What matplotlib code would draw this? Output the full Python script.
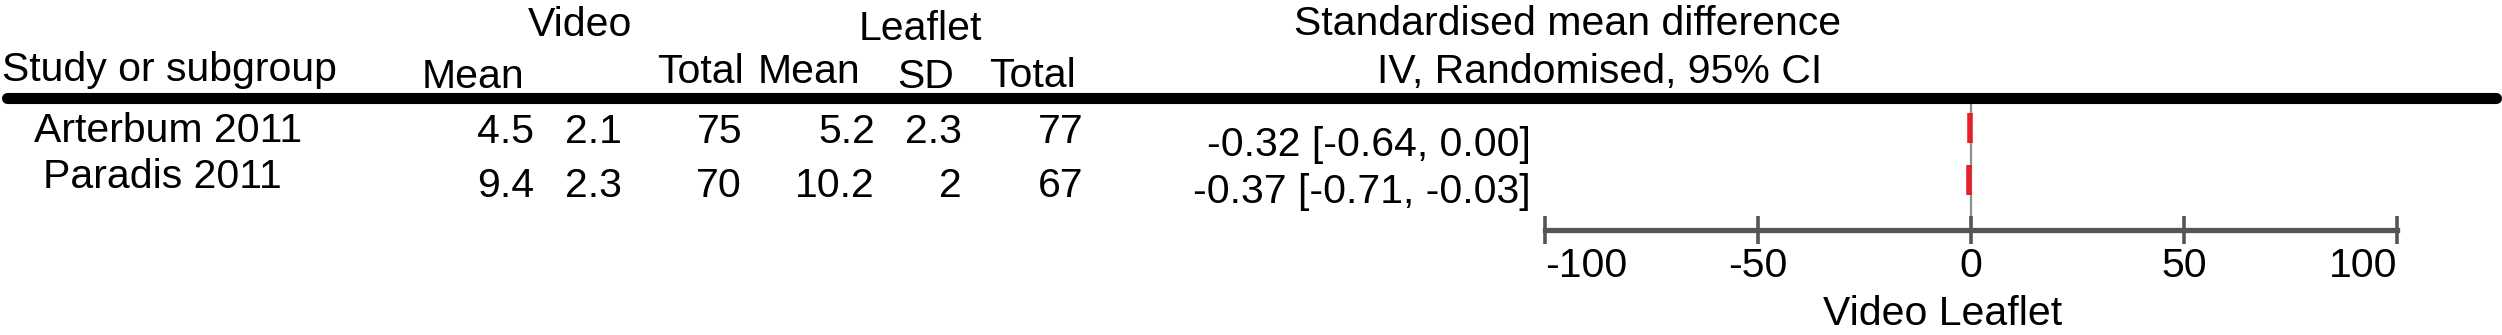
import matplotlib
matplotlib.use("Agg")
import matplotlib.pyplot as plt
from matplotlib.lines import Line2D

# data
studies = ["Arterbum 2011", "Paradis 2011"]
video_mean = [4.5, 9.4]
video_sd = [2.1, 2.3]
video_total = [75, 70]
leaflet_mean = [5.2, 10.2]
leaflet_sd = [2.3, 2.0]
leaflet_total = [77, 67]
smd = [-0.32, -0.37]
ci_low = [-0.64, -0.71]
ci_high = [0.00, -0.03]
axis_ticks = [-100, -50, 0, 50, 100]
axis_label = "Video Leaflet"

W, H = 2502, 335
FS = 29.5
plt.rcParams.update({"font.family": ["Liberation Sans", "DejaVu Sans"], "font.size": FS})


def fx(x):
    return x / W


def fy(y):
    return 1 - y / H


def put(fig, x, y, s, ha="left"):
    fig.text(fx(x), fy(y), s, ha=ha, va="baseline", fontsize=FS, color="black")


fig = plt.figure(figsize=(W / 100, H / 100), dpi=100)

# header
put(fig, 580, 36, "Video", ha="center")
put(fig, 920, 40, "Leaflet", ha="center")
put(fig, 2, 81, "Study or subgroup")
put(fig, 422, 88, "Mean")
put(fig, 700, 83, "Total", ha="center")
put(fig, 809, 83, "Mean", ha="center")
put(fig, 926, 88, "SD", ha="center")
put(fig, 1033, 87, "Total", ha="center")
put(fig, 1294, 35, "Standardised mean difference")
put(fig, 1377, 83, "IV, Randomised, 95% CI")

fig.add_artist(Line2D([fx(7), fx(2496)], [fy(98), fy(98)], color="black",
                      linewidth=8, solid_capstyle="round"))

# table rows
name_x = [168, 162]
name_y = [142, 188]
num_y = [143, 197]
ci_y = [156, 203]
col_right = [534, 622, 742, 875, 962, 1084]
for i, name in enumerate(studies):
    put(fig, name_x[i], name_y[i], name, ha="center")
    vals = [video_mean[i], video_sd[i], video_total[i],
            leaflet_mean[i], leaflet_sd[i], leaflet_total[i]]
    for xr, v in zip(col_right, vals):
        put(fig, xr, num_y[i], f"{v:g}", ha="right")
    put(fig, 1531, ci_y[i], f"{smd[i]:.2f} [{ci_low[i]:.2f}, {ci_high[i]:.2f}]", ha="right")

# forest panel
ax = fig.add_axes([fx(1545), fy(230), fx(2397) - fx(1545), fy(103) - fy(230)])
ax.set_xlim(-100, 100)
ax.set_ylim(0.05, 2.47)
rows = [2, 1]
ax.axvline(0, color="#8f8f8f", linewidth=1.6, zorder=1)
ax.plot(smd, rows, linestyle="none", marker="|", markersize=21,
        markeredgewidth=4, color="#e3202b", zorder=3)
for sp in ["top", "right", "left"]:
    ax.spines[sp].set_visible(False)
ax.spines["bottom"].set_color("#555555")
ax.spines["bottom"].set_linewidth(3.8)
ax.spines["bottom"].set_bounds(-100, 100)
ax.set_yticks([])
ax.set_xticks(axis_ticks)
ax.set_xticklabels([str(t) for t in axis_ticks])
ax.tick_params(axis="x", direction="inout", length=20, width=2.6, color="#555555",
               pad=2, labelsize=FS)
labels = ax.get_xticklabels()
labels[0].set_ha("left")
labels[-1].set_ha("right")
ax.patch.set_alpha(0)
put(fig, 1943, 325, axis_label, ha="center")

fig.savefig("out.png", dpi=100)
